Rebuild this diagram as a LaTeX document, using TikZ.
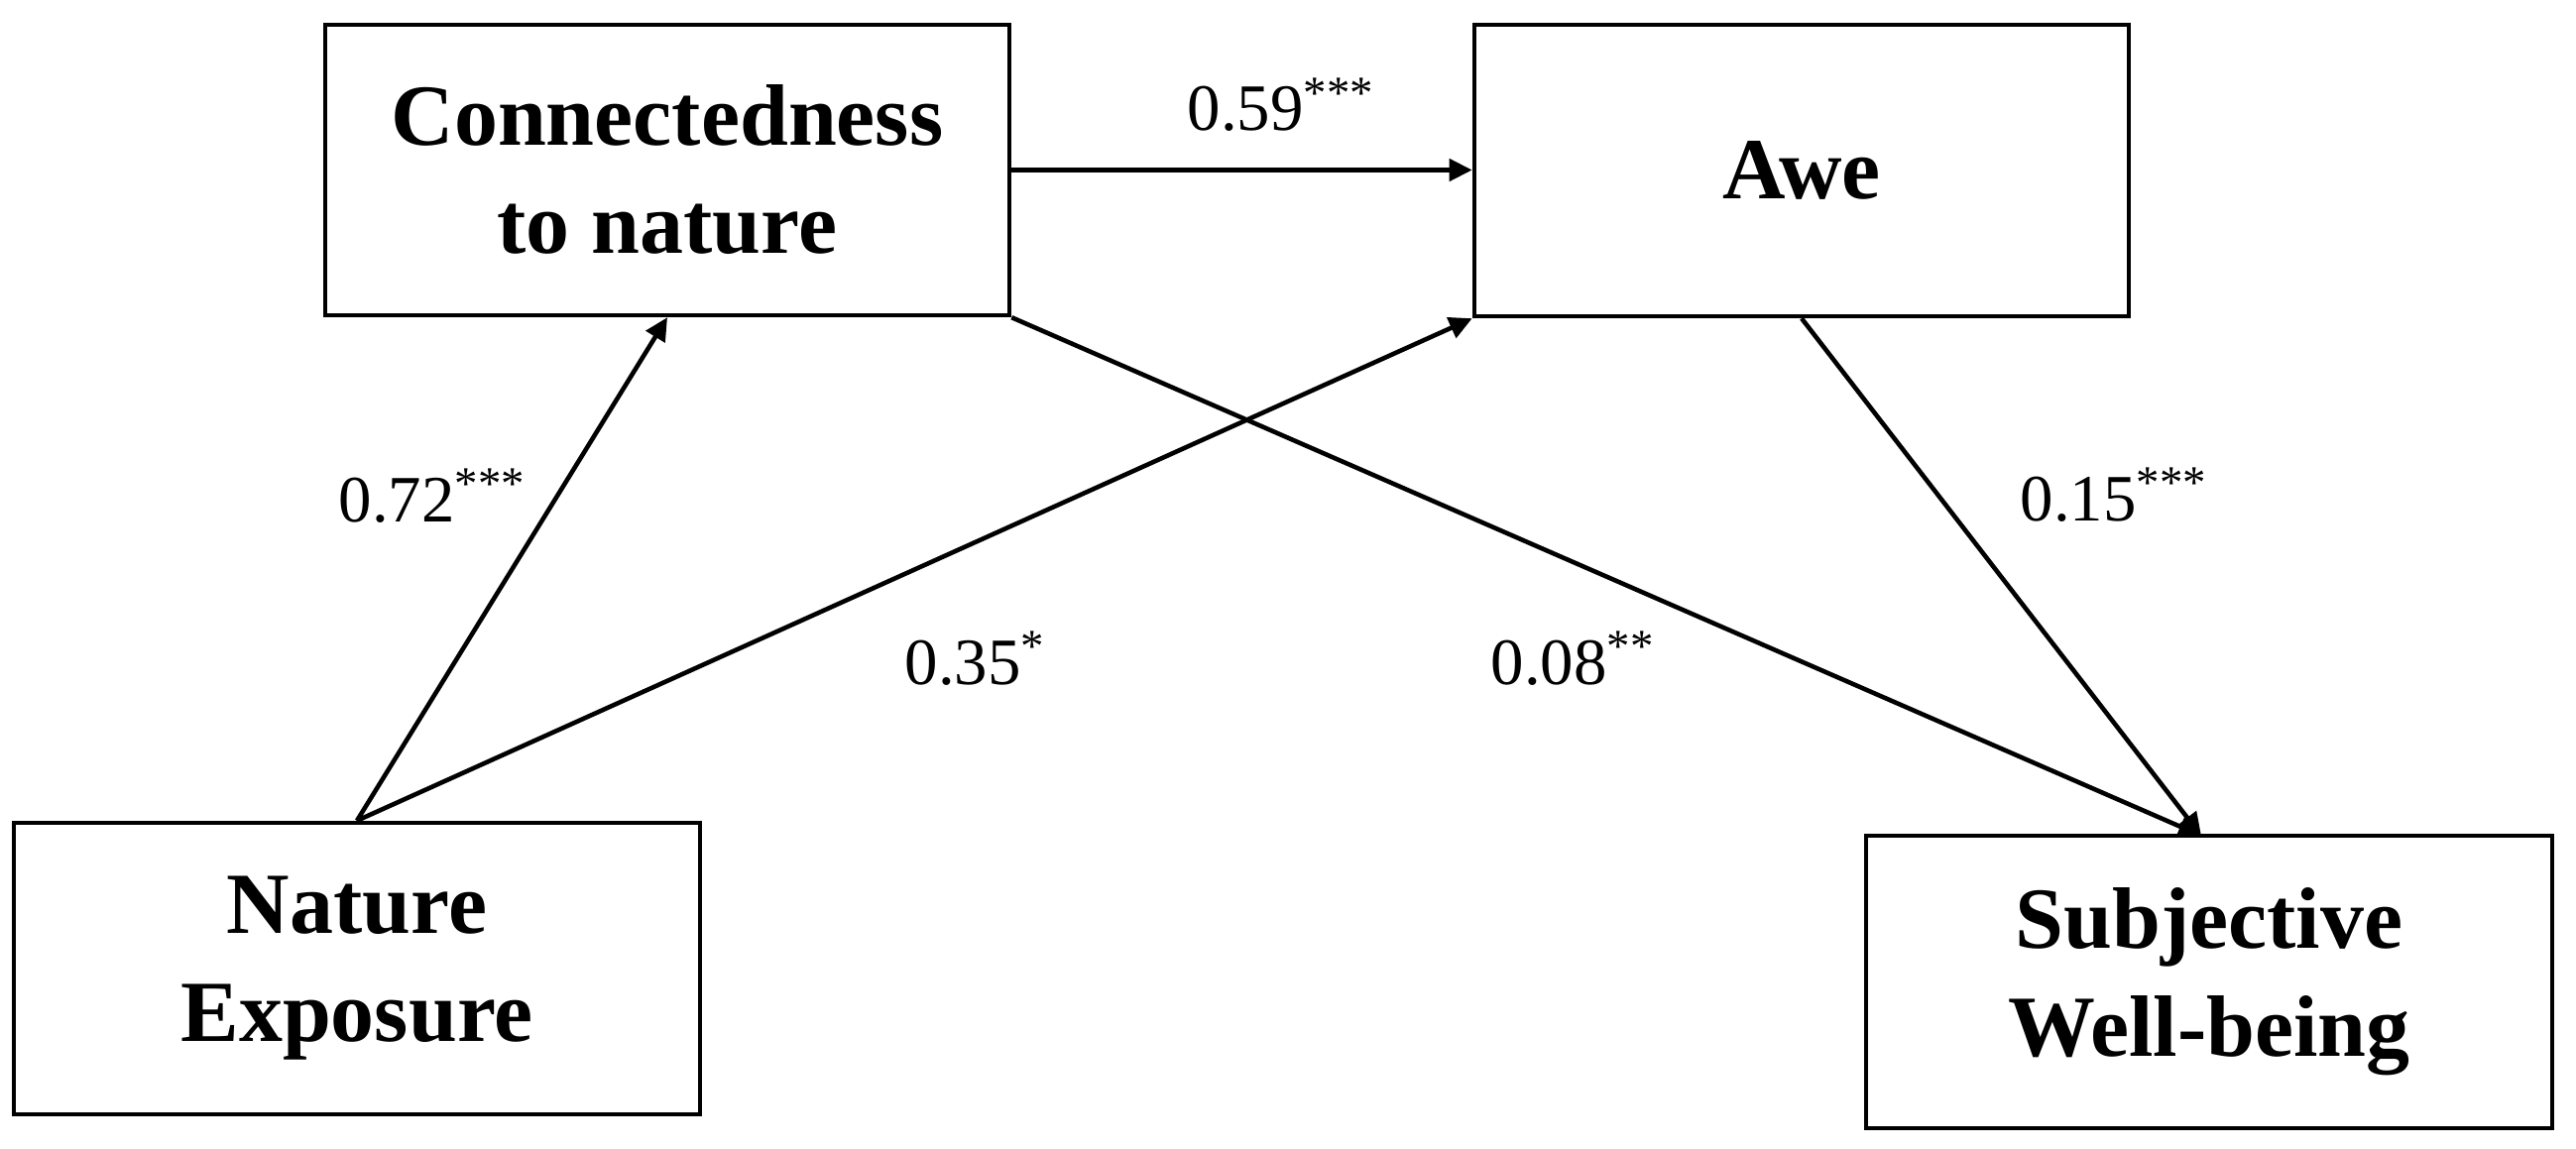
\documentclass[tikz,border=0pt]{standalone}
\usepackage{fontspec}
\setmainfont{Liberation Serif}
\usetikzlibrary{arrows.meta}
\tikzset{
  varbox/.style={draw, line width=1.2pt, rectangle, align=center, inner sep=0pt,
    font=\fontsize{25}{31}\selectfont\bfseries},
  conn/.style={line width=1.3pt, -{Triangle[length=0.23cm,width=0.22cm]}},
  coef/.style={anchor=base west, inner sep=0pt, font=\fontsize{19}{22}\selectfont}
}
\begin{document}
\begin{tikzpicture}[x=0.01cm,y=-0.01cm]
\useasboundingbox (0,0) rectangle (2598,1158);
\node[varbox, minimum width=6.9cm, minimum height=2.93cm] (cn) at (673,171.5) {Connectedness\\to nature};
\node[varbox, minimum width=6.6cm, minimum height=2.94cm] (awe) at (1817,172) {Awe};
\node[varbox, minimum width=6.92cm, minimum height=2.94cm] (ne) at (360,977) {Nature\\Exposure};
\node[varbox, minimum width=6.92cm, minimum height=2.95cm] (swb) at (2228,990.5) {Subjective\\Well-being};
\coordinate (swbin) at (2220,843);
\draw[conn] (ne.north) -- (cn.south);
\draw[conn] (ne.north) -- (awe.south west);
\draw[conn] (cn.east) -- (cn.east -| awe.west);
\draw[conn] (cn.south east) -- (swbin);
\draw[conn] (awe.south) -- (swbin);
\node[coef] (l59) at (1197,132) {0.59\textsuperscript{***}};
\node[coef] (l72) at (341,526) {0.72\textsuperscript{***}};
\node[coef] (l35) at (912,690) {0.35\textsuperscript{*}};
\node[coef] (l15) at (2037,525) {0.15\textsuperscript{***}};
\node[coef] (l08) at (1503,690) {0.08\textsuperscript{**}};
\end{tikzpicture}
\end{document}
